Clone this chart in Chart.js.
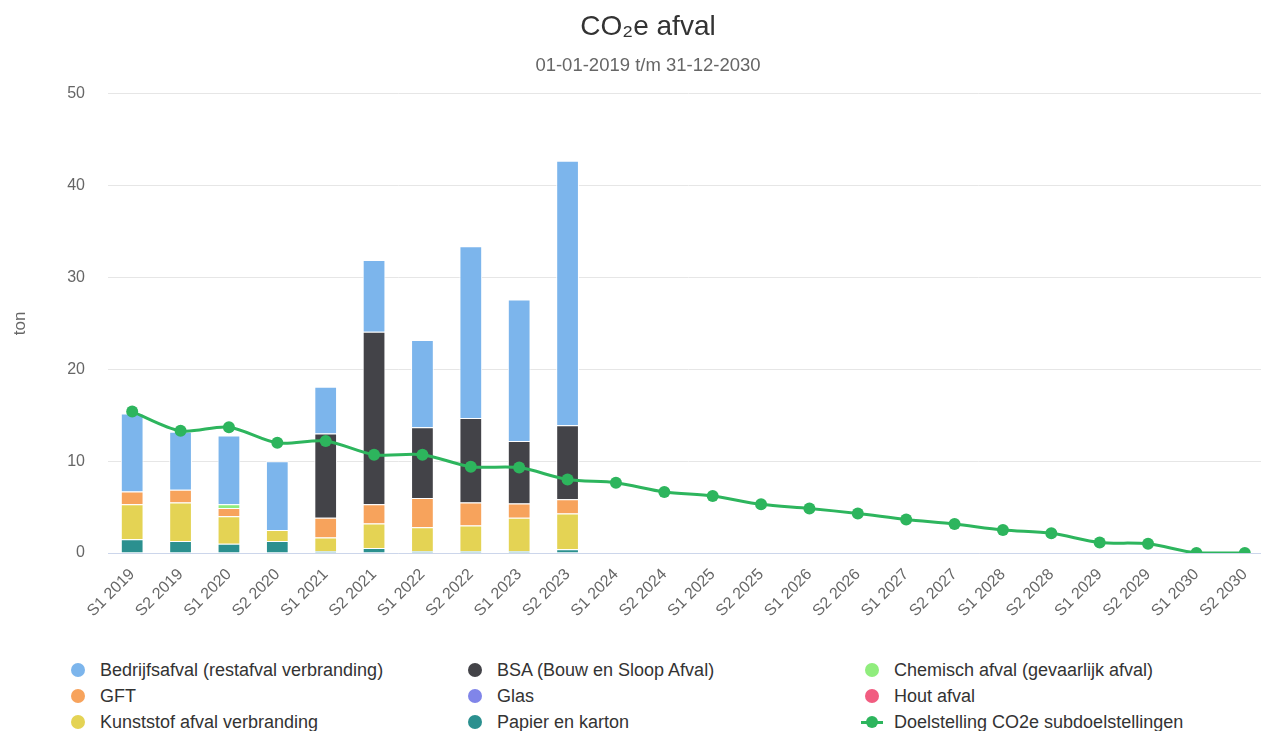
<!DOCTYPE html>
<html>
<head>
<meta charset="utf-8">
<script src="https://cdn.jsdelivr.net/npm/chart.js@4/dist/chart.umd.min.js"></script>
<style>
  html, body { margin: 0; padding: 0; background: #fff; overflow: hidden; }
  #wrap { position: relative; width: 1296px; height: 731px; font-family: "Liberation Sans", Arial, sans-serif; }
  #legend { position: absolute; left: 0; top: 657px; width: 1296px; }
  .li { position: absolute; height: 26px; line-height: 26px; font-size: 18px; color: #333; white-space: nowrap; }
  .dot { position: absolute; top: 6px; width: 14px; height: 14px; border-radius: 50%; }
  .ln { position: absolute; top: 12px; width: 22px; height: 3px; }
</style>
</head>
<body>
<div id="wrap">
  <canvas id="chart" width="1296" height="652"></canvas>
  <div id="legend"></div>
</div>
<script>
// CO2e afval per halfjaar, gestapeld per afvalstroom, met doelstelling als lijn.
const labels = ['S1 2019', 'S2 2019', 'S1 2020', 'S2 2020', 'S1 2021', 'S2 2021', 'S1 2022', 'S2 2022', 'S1 2023', 'S2 2023',
  'S1 2024', 'S2 2024', 'S1 2025', 'S2 2025', 'S1 2026', 'S2 2026', 'S1 2027', 'S2 2027', 'S1 2028', 'S2 2028', 'S1 2029', 'S2 2029', 'S1 2030', 'S2 2030'];
const bedrijfsafval = [8.5, 6.3, 7.5, 7.5, 5.1, 7.8, 9.5, 18.7, 15.4, 28.8];
const bsa = [0, 0, 0, 0, 9.15, 18.8, 7.7, 9.2, 6.8, 8.05];
const chemisch = [0, 0, 0.4, 0, 0, 0, 0, 0, 0, 0];
const gft = [1.4, 1.4, 0.9, 0, 2.15, 2.1, 3.2, 2.5, 1.55, 1.55];
const glas = [0, 0, 0, 0, 0, 0, 0, 0, 0, 0];
const hout = [0, 0, 0, 0, 0, 0, 0, 0, 0, 0];
const kunststof = [3.8, 4.2, 3.0, 1.2, 1.5, 2.65, 2.6, 2.8, 3.65, 3.9];
const papier = [1.5, 1.3, 1.0, 1.3, 0.2, 0.55, 0.2, 0.2, 0.2, 0.4];
const doelstelling = [15.4, 13.3, 13.7, 12.0, 12.2, 10.7, 10.7, 9.4, 9.3, 8.0, 7.65, 6.65, 6.2, 5.3, 4.85, 4.3, 3.65, 3.15, 2.5, 2.15, 1.15, 1.0, 0, 0];
const yTicks = [0, 10, 20, 30, 40, 50];

const FONT = '"Liberation Sans", Arial, sans-serif';
const LINE = '#2db55d';

// legend order; stacking is the reverse (first series on top, like the original)
const series = [
  ['Bedrijfsafval (restafval verbranding)', bedrijfsafval, '#7cb5ec'],
  ['BSA (Bouw en Sloop Afval)', bsa, '#434348'],
  ['Chemisch afval (gevaarlijk afval)', chemisch, '#90ed7d'],
  ['GFT', gft, '#f7a35c'],
  ['Glas', glas, '#8085e9'],
  ['Hout afval', hout, '#f15c80'],
  ['Kunststof afval verbranding', kunststof, '#e4d354'],
  ['Papier en karton', papier, '#2b908f'],
];
const bar = ([label, data, color]) => ({ type: 'bar', label, data: data.map((v) => (v ? v : null)), backgroundColor: color, borderColor: '#fff', borderWidth: 1, barPercentage: 0.47, categoryPercentage: 1, stack: 's', order: 1 });
const datasets = series.slice().reverse().map(bar);
datasets.push({ type: 'line', label: 'Doelstelling CO2e subdoelstellingen', data: doelstelling, borderColor: LINE, backgroundColor: LINE, borderWidth: 3, pointRadius: 6, pointHoverRadius: 6, pointBorderWidth: 0, tension: 0.3, order: 0 });

// left padding 27 keeps the title centred on the full 1296px width (the page crops it at 1261)
new Chart(document.getElementById('chart').getContext('2d'), {
  data: { labels, datasets },
  options: {
    responsive: false, animation: false, devicePixelRatio: 1,
    layout: { padding: { left: 27, right: 27, top: 0, bottom: 0 } },
    plugins: {
      legend: { display: false }, tooltip: { enabled: false },
      title: { display: true, text: 'CO₂e afval', color: '#333', font: { family: FONT, size: 28, weight: 'normal' }, padding: { top: 10, bottom: 11 } },
      subtitle: { display: true, text: '01-01-2019 t/m 31-12-2030', color: '#666', font: { family: FONT, size: 18.5 }, padding: { top: 0, bottom: 17 } },
    },
    scales: {
      x: {
        stacked: true, offset: true,
        grid: { display: false, drawTicks: false },
        border: { display: true, color: '#ccd6eb', width: 1 },
        ticks: { color: '#666', font: { family: FONT, size: 16 }, minRotation: 45, maxRotation: 45, autoSkip: false, padding: 12 },
        afterFit: (s) => { s.height = 99; },
      },
      y: {
        stacked: true, min: 0, max: 50,
        afterBuildTicks: (s) => { s.ticks = yTicks.map((v) => ({ value: v })); },
        grid: { color: '#e6e6e6', drawTicks: false },
        border: { display: false },
        ticks: { color: '#666', font: { family: FONT, size: 16 }, padding: 23 },
        title: { display: true, text: 'ton', color: '#666', font: { family: FONT, size: 17 }, padding: { top: -17, bottom: 4 } },
        afterFit: (s) => { s.width = 81; },
      },
    },
  },
});

// legend in three columns, row by row
const host = document.getElementById('legend');
const items = series.map(([label, , color]) => ({ label, color, line: false }));
items.push({ label: 'Doelstelling CO2e subdoelstellingen', color: LINE, line: true });
host.innerHTML = items.map((it, i) => {
  const x = 78 + (i % 3) * 397, y = Math.floor(i / 3) * 26;
  const mark = it.line
    ? `<span class="ln" style="left:-11px;background:${it.color}"></span><span class="dot" style="left:-6px;top:7px;width:12px;height:12px;background:${it.color}"></span>`
    : `<span class="dot" style="left:-7px;background:${it.color}"></span>`;
  return `<div class="li" style="left:${x}px;top:${y}px">${mark}<span style="position:absolute;left:22px">${it.label}</span></div>`;
}).join('');
</script>
</body>
</html>
